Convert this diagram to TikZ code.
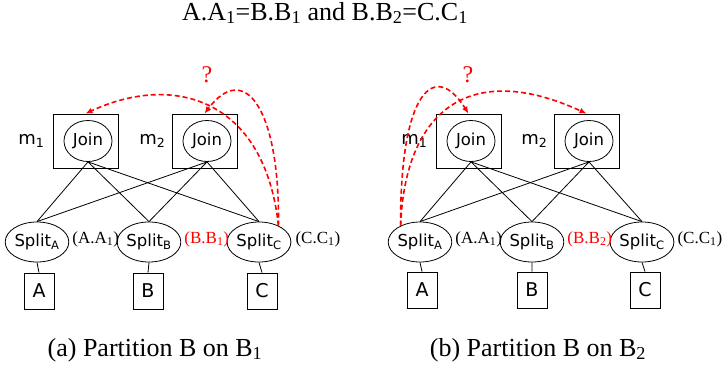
\documentclass[tikz,border=0pt]{standalone}
\usepackage{fontspec}
\setmainfont{Liberation Serif}
\newfontfamily\diagsans{DejaVu Sans}
\usetikzlibrary{positioning,arrows.meta,shapes.geometric}

\tikzset{
  mbox/.style={draw, rectangle, minimum width=65pt, minimum height=54pt, inner sep=0pt, line width=0.8pt},
  joinnode/.style={draw, ellipse, minimum width=48pt, minimum height=41pt, inner sep=0pt, line width=0.8pt, font=\diagsans\fontsize{16.5}{18}\selectfont},
  splitnode/.style={draw, ellipse, minimum width=53pt, minimum height=40pt, inner sep=0pt, line width=0.8pt, font=\diagsans\fontsize{16.5}{18}\selectfont},
  relbox/.style={draw, rectangle, minimum width=30pt, minimum height=36pt, inner sep=0pt, line width=0.8pt, font=\diagsans\fontsize{19}{21}\selectfont},
  mlabel/.style={inner sep=0pt, font=\diagsans\fontsize{18}{20}\selectfont},
  keylabel/.style={inner sep=0pt, font=\fontsize{17}{19}\selectfont},
  query/.style={red, line width=1.6pt, dash pattern=on 5pt off 3pt, -{Latex[length=7pt, width=6pt]}},
  querymark/.style={red, inner sep=0pt, font=\fontsize{24}{26}\selectfont},
  caption/.style={inner sep=0pt, font=\fontsize{26}{28}\selectfont}
}

\begin{document}
\begin{tikzpicture}[x=1pt, y=-1pt, >=Latex]
  \useasboundingbox (0,0) rectangle (722,372);

  \node[inner sep=0pt, font=\fontsize{26}{28}\selectfont] (title) at (325,13) {A.A\textsubscript{1}=B.B\textsubscript{1} and B.B\textsubscript{2}=C.C\textsubscript{1}};

  % (a) partition B on B1
  \node[mbox] (mboxa1) at (85.5,141) {};
  \node[mbox] (mboxa2) at (204.5,141) {};
  \node[joinnode] (joina1) at (88,141) {Join};
  \node[joinnode] (joina2) at (207,141) {Join};
  \node[mlabel, left=8pt of mboxa1] (mlaba1) {m\textsubscript{1}};
  \node[mlabel, left=6pt of mboxa2] (mlaba2) {m\textsubscript{2}};

  \node[splitnode] (splitaA) at (37,242) {Split\textsubscript{A}};
  \node[splitnode] (splitaB) at (149,242) {Split\textsubscript{B}};
  \node[splitnode] (splitaC) at (259,242) {Split\textsubscript{C}};
  \node[keylabel, right=3pt of splitaA, yshift=3pt] (keyaA) {(A.A\textsubscript{1})};
  \node[keylabel, right=3pt of splitaB, yshift=3pt, text=red] (keyaB) {(B.B\textsubscript{1})};
  \node[keylabel, right=4pt of splitaC, yshift=3pt] (keyaC) {(C.C\textsubscript{1})};

  \node[relbox] (relaA) at (39,291) {A};
  \node[relbox] (relaB) at (148,291) {B};
  \node[relbox] (relaC) at (262,291) {C};

  \draw[line width=0.8pt] (joina1.south) -- (splitaA.north) (joina1.south) -- (splitaB.north) (joina1.south) -- (splitaC.north);
  \draw[line width=0.8pt] (joina2.south) -- (splitaA.north) (joina2.south) -- (splitaB.north) (joina2.south) -- (splitaC.north);
  \draw[line width=0.8pt] (splitaA.south) -- (relaA.north) (splitaB.south) -- (relaB.north) (splitaC.south) -- (relaC.north);

  \draw[query] (splitaC.40) .. controls (280,110) and (245,60) .. (mboxa2.north);
  \draw[query] (splitaC.40) .. controls (265,100) and (175,72) .. (mboxa1.north);
  \node[querymark] (qa) at (207,75) {?};

  \node[caption] (capa) at (155,350) {(a) Partition B on B\textsubscript{1}};

  % (b) partition B on B2
  \node[mbox] (mboxb1) at (468.5,141) {};
  \node[mbox] (mboxb2) at (586.5,141) {};
  \node[joinnode] (joinb1) at (471,141) {Join};
  \node[joinnode] (joinb2) at (589,141) {Join};
  \node[mlabel, left=8pt of mboxb1] (mlabb1) {m\textsubscript{1}};
  \node[mlabel, left=6pt of mboxb2] (mlabb2) {m\textsubscript{2}};

  \node[splitnode] (splitbA) at (420,242) {Split\textsubscript{A}};
  \node[splitnode] (splitbB) at (532,242) {Split\textsubscript{B}};
  \node[splitnode] (splitbC) at (642,242) {Split\textsubscript{C}};
  \node[keylabel, right=3pt of splitbA, yshift=3pt] (keybA) {(A.A\textsubscript{1})};
  \node[keylabel, right=3pt of splitbB, yshift=3pt, text=red] (keybB) {(B.B\textsubscript{2})};
  \node[keylabel, right=3pt of splitbC, yshift=3pt] (keybC) {(C.C\textsubscript{1})};

  \node[relbox] (relbA) at (422,290) {A};
  \node[relbox] (relbB) at (532,290) {B};
  \node[relbox] (relbC) at (645,290) {C};

  \draw[line width=0.8pt] (joinb1.south) -- (splitbA.north) (joinb1.south) -- (splitbB.north) (joinb1.south) -- (splitbC.north);
  \draw[line width=0.8pt] (joinb2.south) -- (splitbA.north) (joinb2.south) -- (splitbB.north) (joinb2.south) -- (splitbC.north);
  \draw[line width=0.8pt] (splitbA.south) -- (relbA.north) (splitbB.south) -- (relbB.north) (splitbC.south) -- (relbC.north);

  \draw[query] (splitbA.140) .. controls (400,90) and (435,60) .. (mboxb1.north);
  \draw[query] (splitbA.140) .. controls (405,110) and (470,60) .. (mboxb2.north);
  \node[querymark] (qb) at (468,75) {?};

  \node[caption] (capb) at (538,350) {(b) Partition B on B\textsubscript{2}};
\end{tikzpicture}
\end{document}
